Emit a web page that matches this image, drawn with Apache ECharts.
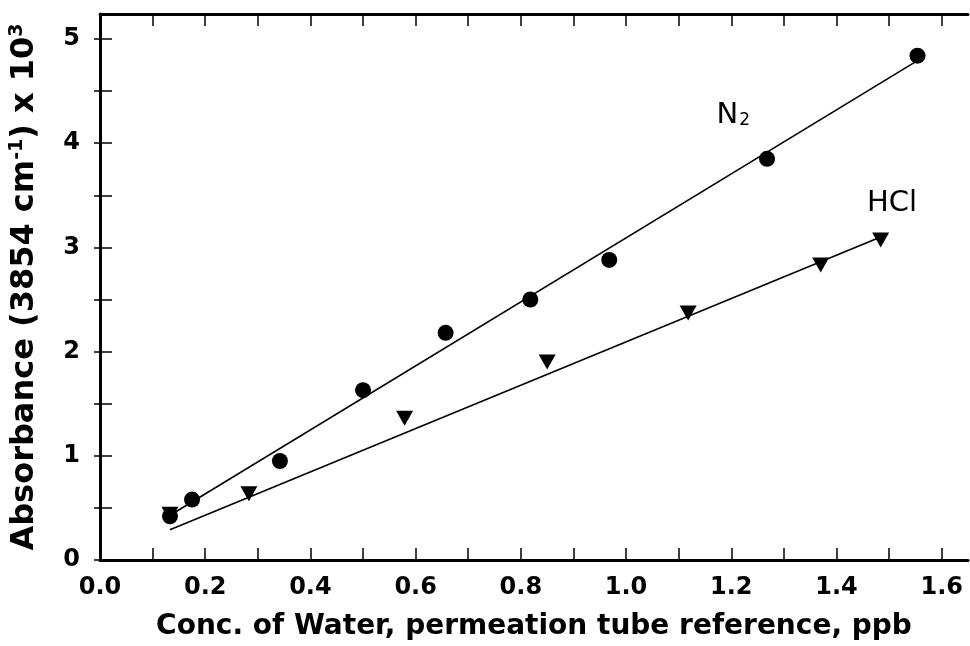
<!DOCTYPE html>
<html>
<head>
<meta charset="utf-8">
<script src="https://cdn.jsdelivr.net/npm/echarts@6/dist/echarts.min.js"></script>
<style>
html,body{margin:0;padding:0;background:#fff;}
#c{width:970px;height:646px;}
</style>
</head>
<body>
<div id="c"></div>
<script>
// ---- data ----
var n2X = [0.133, 0.175, 0.342, 0.50, 0.657, 0.818, 0.968, 1.268, 1.554];
var n2Y = [0.42, 0.58, 0.95, 1.63, 2.18, 2.50, 2.88, 3.85, 4.84];
var hclX = [0.133, 0.283, 0.579, 0.85, 1.118, 1.37, 1.484];
var hclY = [0.44, 0.635, 1.36, 1.90, 2.37, 2.83, 3.07];
var n2FitX = [0.127, 1.55];
var n2FitY = [0.41, 4.78];
var hclFitX = [0.133, 1.484];
var hclFitY = [0.29, 3.10];
var xTickLabels = [0, 0.2, 0.4, 0.6, 0.8, 1.0, 1.2, 1.4, 1.6];
var xTicks = [0, 0.1, 0.2, 0.3, 0.4, 0.5, 0.6, 0.7, 0.8, 0.9, 1.0, 1.1, 1.2, 1.3, 1.4, 1.5, 1.6];
var yTickLabels = [0, 1, 2, 3, 4, 5];
var yTicks = [0, 0.5, 1, 1.5, 2, 2.5, 3, 3.5, 4, 4.5, 5];
var seriesLabels = ['N2', 'HCl'];
var seriesLabelX = [1.172, 1.458];
var seriesLabelY = [4.27, 3.42];

function zip(a, b) { return a.map(function (v, i) { return [v, b[i]]; }); }

var FONT = 'DejaVu Sans';
var chart = echarts.init(document.getElementById('c'), null, {renderer: 'canvas'});
var option = {
  animation: false,
  backgroundColor: '#fff',
  grid: {left: 98, right: 2, top: 14, bottom: 79, containLabel: false},
  xAxis: [{
    type: 'value', position: 'bottom', min: 0, max: 1.65,
    axisLine: {show: true, onZero: false, lineStyle: {color: '#000', width: 3}},
    axisTick: {show: true, inside: true, length: 12, customValues: xTicks, lineStyle: {color: '#000', width: 1.5}},
    axisLabel: {show: true, customValues: xTickLabels, margin: 16, color: '#000', fontFamily: FONT, fontWeight: 'bold', fontSize: 24,
      formatter: function (v) { return v.toFixed(1); }},
    splitLine: {show: false},
    name: 'Conc. of Water, permeation tube reference, ppb', nameLocation: 'middle', nameGap: 53,
    nameTextStyle: {color: '#000', fontFamily: FONT, fontWeight: 'bold', fontSize: 28}
  }, {
    type: 'value', position: 'top', min: 0, max: 1.65,
    axisLine: {show: true, onZero: false, lineStyle: {color: '#000', width: 3}},
    axisTick: {show: true, inside: true, length: 12, customValues: xTicks, lineStyle: {color: '#000', width: 1.5}},
    axisLabel: {show: false}, splitLine: {show: false}
  }],
  yAxis: [{
    type: 'value', position: 'left', min: 0, max: 5.24,
    axisLine: {show: true, onZero: false, lineStyle: {color: '#000', width: 3}},
    axisTick: {show: true, inside: true, length: 12, customValues: yTicks, lineStyle: {color: '#000', width: 1.5}},
    axisLabel: {show: true, customValues: yTickLabels, margin: 20, color: '#000', fontFamily: FONT, fontWeight: 'bold', fontSize: 24},
    splitLine: {show: false},
    name: 'Absorbance (3854 cm{sup|-1}) x 10{sup|3}', nameLocation: 'middle', nameGap: 58, nameRotate: 90,
    nameTextStyle: {color: '#000', fontFamily: FONT, fontWeight: 'bold', fontSize: 32,
      rich: {sup: {color: '#000', fontFamily: FONT, fontWeight: 'bold', fontSize: 19, verticalAlign: 'top', padding: [0, 0, 15, 0]}}}
  }, {
    type: 'value', position: 'right', min: 0, max: 5.24,
    axisLine: {show: false},
    axisTick: {show: true, inside: true, length: 6, customValues: yTicks, lineStyle: {color: '#000', width: 1.5}},
    axisLabel: {show: false}, splitLine: {show: false}
  }],
  series: [{
    type: 'line', data: zip(n2FitX, n2FitY), symbol: 'none', silent: true,
    lineStyle: {color: '#000', width: 1.6}
  }, {
    type: 'line', data: zip(hclFitX, hclFitY), symbol: 'none', silent: true,
    lineStyle: {color: '#000', width: 1.6}
  }, {
    type: 'scatter', data: zip(hclX, hclY), symbol: 'triangle', symbolRotate: 180, symbolSize: [17, 15],
    itemStyle: {color: '#000', opacity: 1}
  }, {
    type: 'scatter', data: zip(n2X, n2Y), symbol: 'circle', symbolSize: 16,
    itemStyle: {color: '#000', opacity: 1}
  }, {
    type: 'scatter', symbolSize: 0, silent: true,
    itemStyle: {opacity: 1},
    data: seriesLabels.map(function (t, i) { return {value: [seriesLabelX[i], seriesLabelY[i]], name: t}; }),
    label: {show: true, position: 'right', distance: 0, color: '#000', opacity: 1, fontFamily: FONT, fontSize: 29,
      formatter: function (p) { return p.name === 'N2' ? 'N{sub|2}' : p.name; },
      rich: {sub: {color: '#000', fontFamily: FONT, fontSize: 17, verticalAlign: 'bottom', padding: [10, 0, 0, 1]}}}
  }]
};
chart.setOption(option);
</script>
</body>
</html>
